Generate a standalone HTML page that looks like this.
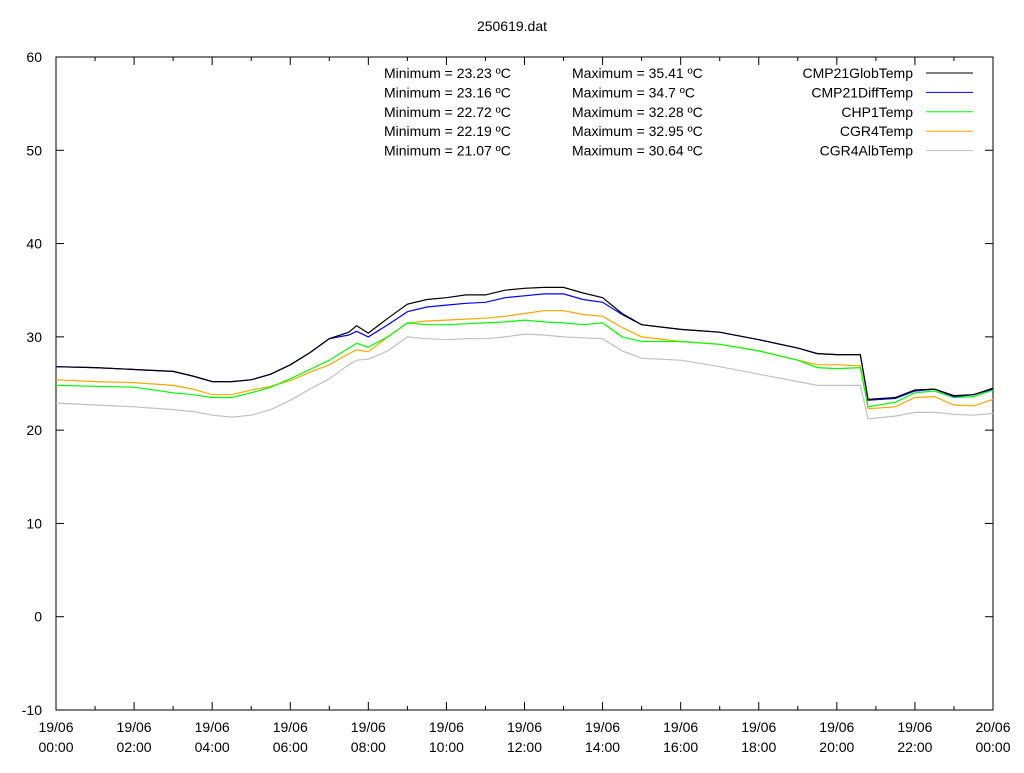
<!DOCTYPE html>
<html><head><meta charset="utf-8"><style>
body{margin:0;background:#fff;}
svg{font-family:"Liberation Sans",sans-serif;}
</style></head><body>
<svg id="c" width="1024" height="768"></svg>
<script>
const times=[0,1,2,3,3.5,4,4.5,5,5.5,6,6.5,7,7.5,7.7,8,8.5,9,9.5,10,10.5,11,11.5,12,12.5,13,13.5,14,14.5,15,16,17,18,19,19.5,20,20.6,20.8,21.5,22,22.5,23,23.5,24];
const glob=[26.8,26.7,26.5,26.3,25.8,25.2,25.2,25.4,26.0,27.0,28.3,29.8,30.5,31.2,30.4,32.0,33.5,34.0,34.2,34.5,34.5,35.0,35.2,35.3,35.3,34.7,34.2,32.5,31.3,30.8,30.5,29.7,28.8,28.2,28.1,28.1,23.3,23.5,24.3,24.4,23.7,23.8,24.5];
const diff=[26.8,26.7,26.5,26.3,25.8,25.2,25.2,25.4,26.0,27.0,28.3,29.8,30.2,30.6,30.0,31.3,32.7,33.2,33.4,33.6,33.7,34.2,34.4,34.6,34.6,34.0,33.7,32.4,31.3,30.8,30.5,29.7,28.8,28.2,28.1,28.1,23.2,23.4,24.2,24.4,23.6,23.8,24.4];
const chp1=[24.8,24.7,24.6,24.0,23.8,23.5,23.5,24.0,24.6,25.5,26.5,27.5,28.8,29.3,28.9,30.0,31.5,31.3,31.3,31.4,31.5,31.6,31.8,31.6,31.5,31.3,31.5,30.0,29.5,29.5,29.2,28.5,27.5,26.7,26.6,26.7,22.5,23.0,24.0,24.2,23.5,23.6,24.3];
const cgr4=[25.4,25.2,25.1,24.8,24.4,23.8,23.8,24.3,24.7,25.3,26.2,27.0,28.2,28.6,28.4,30.0,31.5,31.7,31.8,31.9,32.0,32.2,32.5,32.8,32.8,32.4,32.2,31.0,30.0,29.5,29.2,28.5,27.5,27.0,27.0,26.9,22.3,22.5,23.5,23.6,22.7,22.6,23.3];
const alb=[22.9,22.7,22.5,22.2,22.0,21.6,21.4,21.6,22.2,23.2,24.4,25.5,27.0,27.5,27.6,28.5,30.0,29.8,29.7,29.8,29.8,30.0,30.3,30.2,30.0,29.9,29.8,28.5,27.7,27.5,26.8,26.0,25.2,24.8,24.8,24.8,21.2,21.5,21.9,21.9,21.7,21.6,21.8];
const yTicks=[-10,0,10,20,30,40,50,60];
const xLabels=[["19/06","00:00"],["19/06","02:00"],["19/06","04:00"],["19/06","06:00"],["19/06","08:00"],["19/06","10:00"],["19/06","12:00"],["19/06","14:00"],["19/06","16:00"],["19/06","18:00"],["19/06","20:00"],["19/06","22:00"],["20/06","00:00"]];
const seriesNames=["CMP21GlobTemp","CMP21DiffTemp","CHP1Temp","CGR4Temp","CGR4AlbTemp"];
const mins=["23.23","23.16","22.72","22.19","21.07"];
const maxs=["35.41","34.7","32.28","32.95","30.64"];
const colors=["#000000","#0000ff","#00ff00","#ffa500","#c0c0c0"];
const L=56,R=993,T=57,B=710;
const X=t=>L+(R-L)*t/24, Y=v=>B-(B-T)*(v+10)/70;
const svg=document.getElementById('c');const NS="http://www.w3.org/2000/svg";
function mk(tag,attrs,txt){const e=document.createElementNS(NS,tag);for(const k in attrs)e.setAttribute(k,attrs[k]);if(txt!==undefined)e.textContent=txt;svg.appendChild(e);return e;}
let e=mk('text',{x:512,y:31,'text-anchor':'middle','font-size':14},'250619.dat');


e=mk('rect',{x:L,y:T,width:R-L,height:B-T,fill:'none',stroke:'#000'});


yTicks.forEach(v=>{
  const y=Y(v);
  mk('line',{x1:L,x2:L+8,y1:y,y2:y,stroke:'#000'});
  mk('line',{x1:R,x2:R-8,y1:y,y2:y,stroke:'#000'});
  const t=mk('text',{x:42,y:y+5,'text-anchor':'end','font-size':14},String(v));
  
  
});
for(let h=0;h<=24;h++){
  const x=X(h),len=h%2==0?8:4;
  mk('line',{x1:x,x2:x,y1:B,y2:B-len,stroke:'#000'});
  mk('line',{x1:x,x2:x,y1:T,y2:T+len,stroke:'#000'});
}
xLabels.forEach((l,i)=>{
  const x=X(i*2);
  const t=mk('text',{x:x,y:732,'text-anchor':'middle','font-size':14},l[0]);
  
  
  const t2=mk('text',{x:x,y:752,'text-anchor':'middle','font-size':14},l[1]);
  
  
});
const data=[glob,diff,chp1,cgr4,alb];
for(let s=4;s>=0;s--){
  const pts=times.map((t,i)=>X(t).toFixed(1)+','+Y(data[s][i]).toFixed(1)).join(' ');
  const p=mk('polyline',{points:pts,fill:'none',stroke:colors[s],'stroke-width':1.2});
  
  
}
seriesNames.forEach((n,i)=>{
  const y=78+i*19.4;
  const t=mk('text',{x:384,y:y,'font-size':14},'Minimum = '+mins[i]+' ºC');
  
  
  const t2=mk('text',{x:572,y:y,'font-size':14},'Maximum = '+maxs[i]+' ºC');
  
  
  const lt=mk('text',{x:913,y:y,'text-anchor':'end','font-size':14},n);
  
  
  const ll=mk('line',{x1:926,x2:973,y1:y-5,y2:y-5,stroke:colors[i]});
  
  
});
</script>
</body></html>
